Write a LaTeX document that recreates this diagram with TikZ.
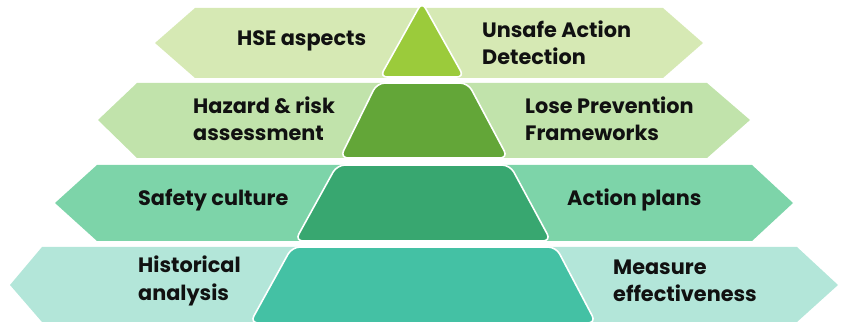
\documentclass[tikz,border=0pt]{standalone}
\usepackage{fontspec}
\setmainfont{Poppins}
\definecolor{bA}{HTML}{D6E9B4}
\definecolor{tA}{HTML}{9BCB3B}
\definecolor{bB}{HTML}{C1E3AB}
\definecolor{tB}{HTML}{63A638}
\definecolor{bC}{HTML}{7DD4A9}
\definecolor{tC}{HTML}{38A770}
\definecolor{bD}{HTML}{B3E6D9}
\definecolor{tD}{HTML}{44C1A4}
\definecolor{ink}{HTML}{111111}
\tikzset{
  banner/.style={fill=#1, draw=none},
  tier/.style={fill=#1, draw=white, line width=1.6pt, rounded corners=8pt},
  lbl/.style={anchor=west, align=left, text=ink, inner sep=0pt,
    font=\fontsize{20.8}{27.5}\selectfont\bfseries},
}
\begin{document}
\begin{tikzpicture}[x=1pt,y=-1pt]
\useasboundingbox (0,0) rectangle (847,323);
% banners
\fill[banner=bA] (155,43) -- (195,8) -- (663,8) -- (703,43) -- (663,78) -- (195,78) -- cycle;
\fill[banner=bB] (98,120) -- (137,83) -- (707,83) -- (750,120) -- (707,158) -- (137,158) -- cycle;
\fill[banner=bC] (55,203) -- (97,165) -- (752,165) -- (793,203) -- (752,241) -- (97,241) -- cycle;
\fill[banner=bD] (10,285) -- (42,247) -- (797,247) -- (838,285) -- (797,322) -- (42,322) -- cycle;
% pyramid tiers
\path[tier=tA, rounded corners=7pt] (422,77) -- (464,77) -- (422,2) -- (380,77) -- cycle;
\path[tier=tB] (423,158) -- (508,158) -- (468,83) -- (377,83) -- (340,158) -- cycle;
\path[tier=tC] (423,241) -- (551,241) -- (510,165) -- (337,165) -- (295,241) -- cycle;
\path[tier=tD] (423,323) -- (596,323) -- (556,247) -- (292,247) -- (250,323) -- cycle;
% labels
\node[lbl] (hse) at (237,41) {HSE aspects};
\node[lbl] (unsafe) at (482,43) {Unsafe Action\\Detection};
\node[lbl] (hazard) at (193,119) {Hazard \& risk\\assessment};
\node[lbl] (lose) at (525,119) {Lose Prevention\\Frameworks};
\node[lbl] (safety) at (138,200) {Safety culture};
\node[lbl] (action) at (567,200) {Action plans};
\node[lbl] (hist) at (138,281) {Historical\\analysis};
\node[lbl] (measure) at (613,281) {Measure\\effectiveness};
\end{tikzpicture}
\end{document}
